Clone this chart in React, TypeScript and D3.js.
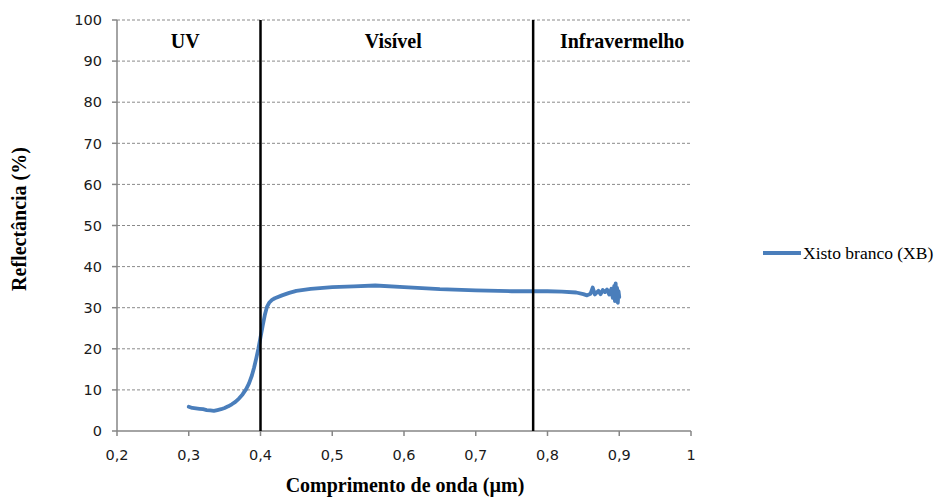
import React from "react";
import * as d3 from "d3";

const xTicks = [0.2, 0.3, 0.4, 0.5, 0.6, 0.7, 0.8, 0.9, 1];
const yTicks = [0, 10, 20, 30, 40, 50, 60, 70, 80, 90, 100];
const regionBounds = [0.4, 0.78];
const regionLabels = [
  { label: "UV", x: 0.295 },
  { label: "Visível", x: 0.585 },
  { label: "Infravermelho", x: 0.904 },
];
const seriesName = "Xisto branco (XB)";
const wavelength = [
  0.3, 0.305, 0.31, 0.315, 0.32, 0.325, 0.33, 0.335, 0.34, 0.345, 0.35, 0.355, 0.36, 0.365, 0.37, 0.375,
  0.38, 0.384, 0.388, 0.391, 0.394, 0.397, 0.4, 0.403, 0.406, 0.409, 0.412, 0.416, 0.42, 0.43, 0.44,
  0.45, 0.47, 0.5, 0.53, 0.56, 0.6, 0.65, 0.7, 0.75, 0.8, 0.82, 0.84, 0.85, 0.855, 0.86, 0.863,
  0.866, 0.868, 0.871, 0.874, 0.877, 0.88, 0.883, 0.886, 0.889, 0.891, 0.893, 0.894, 0.895, 0.896,
  0.897, 0.898, 0.899, 0.9,
];
const reflectance = [
  5.9, 5.6, 5.5, 5.4, 5.3, 5.1, 5.0, 4.9, 5.1, 5.3, 5.6, 6.0, 6.5, 7.1, 7.9, 8.9,
  10.2, 11.6, 13.5, 15.4, 17.6, 20.0, 22.8, 25.6, 28.2, 30.2, 31.2, 31.9, 32.3, 33.0, 33.6,
  34.1, 34.6, 35.0, 35.2, 35.4, 35.0, 34.5, 34.2, 34.0, 34.0, 33.9, 33.7, 33.3, 33.0, 33.4, 34.9,
  33.2, 33.6, 34.1, 33.3, 34.3, 33.8, 34.4, 33.2, 34.6, 32.4, 35.3, 31.6, 35.9, 32.0, 34.8, 31.2,
  34.0, 32.6,
];

const W = 937;
const H = 497;
const left = 117;
const right = 691;
const top = 20;
const bottom = 431;

export default function App() {
  const x = d3.scaleLinear().domain([0.2, 1]).range([left, right]);
  const y = d3.scaleLinear().domain([0, 100]).range([bottom, top]);
  const pts = wavelength.map((w, i) => [w, reflectance[i]] as [number, number]);
  const line = d3
    .line<[number, number]>()
    .x((d) => x(d[0]))
    .y((d) => y(d[1]))
    .curve(d3.curveLinear);
  const tickFont = "'DejaVu Sans', Verdana, sans-serif";
  const serif = "'Liberation Serif', 'Times New Roman', serif";
  return (
    <svg
      width={W}
      height={H}
      style={{ position: "absolute", left: 0, top: 0, background: "#fff" }}
    >
      {yTicks.slice(1).map((t) => (
        <line
          key={"g" + t}
          x1={left}
          x2={right}
          y1={y(t)}
          y2={y(t)}
          stroke="#8a8a8a"
          strokeWidth={1}
          strokeDasharray="3,2"
        />
      ))}
      <line x1={left} x2={left} y1={top} y2={bottom} stroke="#868686" strokeWidth={1.5} />
      <line x1={left} x2={right} y1={bottom} y2={bottom} stroke="#868686" strokeWidth={1.5} />
      {yTicks.map((t) => (
        <g key={"y" + t}>
          <line x1={left - 5} x2={left} y1={y(t)} y2={y(t)} stroke="#868686" strokeWidth={1.5} />
          <text
            x={left - 15}
            y={y(t)}
            dy="0.36em"
            textAnchor="end"
            fontFamily={tickFont}
            fontSize={14.5}
            fill="#1a1a1a"
          >
            {t}
          </text>
        </g>
      ))}
      {xTicks.map((t) => (
        <g key={"x" + t}>
          <line x1={x(t)} x2={x(t)} y1={bottom} y2={bottom + 5} stroke="#868686" strokeWidth={1.5} />
          <text
            x={x(t)}
            y={bottom + 29}
            textAnchor="middle"
            fontFamily={tickFont}
            fontSize={14.5}
            fill="#1a1a1a"
          >
            {String(t).replace(".", ",")}
          </text>
        </g>
      ))}
      <path
        d={line(pts) || ""}
        fill="none"
        stroke="#4a7ebb"
        strokeWidth={3.8}
        strokeLinejoin="round"
        strokeLinecap="round"
      />
      {regionBounds.map((b) => (
        <line key={"b" + b} x1={x(b)} x2={x(b)} y1={top} y2={bottom} stroke="#000" strokeWidth={2.5} />
      ))}
      {regionLabels.map((r) => (
        <text
          key={r.label}
          x={x(r.x)}
          y={48}
          textAnchor="middle"
          fontFamily={serif}
          fontWeight="bold"
          fontSize={20}
          fill="#000"
        >
          {r.label}
        </text>
      ))}
      <text
        x={405}
        y={492}
        textAnchor="middle"
        fontFamily={serif}
        fontWeight="bold"
        fontSize={20}
        fill="#000"
      >
        Comprimento de onda (µm)
      </text>
      <text
        transform={`translate(26, 219) rotate(-90)`}
        textAnchor="middle"
        fontFamily={serif}
        fontWeight="bold"
        fontSize={20}
        fill="#000"
      >
        Reflectância (%)
      </text>
      <line x1={763} x2={801} y1={253} y2={253} stroke="#4a7ebb" strokeWidth={3.8} />
      <text x={803} y={259} fontFamily={serif} fontSize={17.5} fill="#000">
        {seriesName}
      </text>
    </svg>
  );
}
